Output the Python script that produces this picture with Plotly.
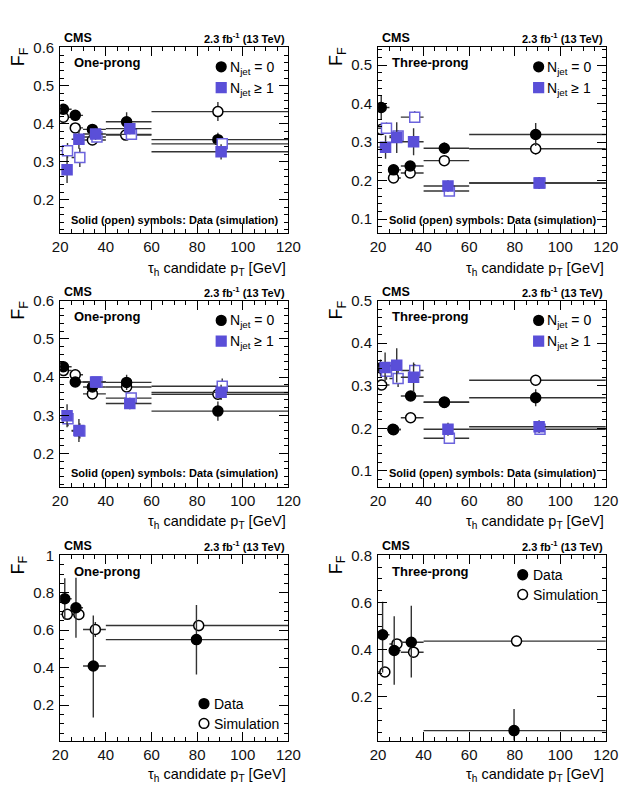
import plotly.graph_objects as go

# ---------------- DATA ----------------
bins_5 = [20, 25, 30, 40, 60, 120]
bins_4 = [20, 25, 30, 40, 120]

# Panel A: one-prong (top row)
A_nj0_data_pt = [21.4, 26.6, 34.1, 49.1, 89.1]
A_nj0_data_ff = [0.438, 0.422, 0.385, 0.405, 0.358]
A_nj0_data_err = [0.008, 0.008, 0.010, 0.025, 0.018]
A_nj0_sim_pt = [21.4, 26.6, 34.1, 48.7, 89.1]
A_nj0_sim_ff = [0.417, 0.389, 0.357, 0.370, 0.432]
A_nj0_sim_err = [0.006, 0.008, 0.008, 0.010, 0.025]
A_nj1_data_pt = [23.0, 28.2, 35.5, 50.5, 90.5]
A_nj1_data_ff = [0.279, 0.359, 0.373, 0.387, 0.326]
A_nj1_data_err = [0.035, 0.025, 0.015, 0.015, 0.020]
A_nj1_sim_pt = [23.2, 28.6, 36.1, 51.2, 91.0]
A_nj1_sim_ff = [0.329, 0.311, 0.365, 0.372, 0.347]
A_nj1_sim_err = [0.020, 0.025, 0.012, 0.010, 0.012]

# Panel B: three-prong (top row)
B_nj0_data_pt = [21.4, 26.8, 34.1, 49.1, 89.2]
B_nj0_data_ff = [0.390, 0.228, 0.238, 0.284, 0.320]
B_nj0_data_err = [0.030, 0.012, 0.010, 0.015, 0.030]
B_nj0_sim_pt = [21.4, 26.8, 34.1, 49.1, 89.2]
B_nj0_sim_ff = [0.333, 0.207, 0.220, 0.252, 0.283]
B_nj0_sim_err = [0.010, 0.008, 0.008, 0.008, 0.015]
B_nj1_data_pt = [23.3, 28.2, 35.6, 50.7, 90.7]
B_nj1_data_ff = [0.287, 0.312, 0.301, 0.186, 0.194]
B_nj1_data_err = [0.030, 0.040, 0.035, 0.015, 0.015]
B_nj1_sim_pt = [23.7, 28.8, 36.1, 51.3, 91.1]
B_nj1_sim_ff = [0.336, 0.316, 0.365, 0.173, 0.194]
B_nj1_sim_err = [0.015, 0.015, 0.015, 0.008, 0.010]

# Panel C: one-prong (middle row)
C_nj0_data_pt = [21.4, 26.6, 34.1, 49.1, 89.1]
C_nj0_data_ff = [0.427, 0.387, 0.374, 0.386, 0.311]
C_nj0_data_err = [0.008, 0.008, 0.010, 0.020, 0.025]
C_nj0_sim_pt = [21.4, 26.6, 34.1, 49.1, 89.1]
C_nj0_sim_ff = [0.417, 0.406, 0.356, 0.374, 0.355]
C_nj0_sim_err = [0.008, 0.010, 0.008, 0.010, 0.015]
C_nj1_data_pt = [23.0, 28.2, 35.5, 50.5, 90.5]
C_nj1_data_ff = [0.299, 0.260, 0.387, 0.331, 0.360]
C_nj1_data_err = [0.030, 0.030, 0.012, 0.015, 0.020]
C_nj1_sim_pt = [23.4, 28.6, 36.1, 51.1, 91.0]
C_nj1_sim_ff = [0.291, 0.259, 0.387, 0.345, 0.376]
C_nj1_sim_err = [0.020, 0.020, 0.010, 0.010, 0.020]

# Panel D: three-prong (middle row)
D_nj0_data_pt = [21.1, 26.5, 34.3, 49.1, 89.2]
D_nj0_data_ff = [0.342, 0.198, 0.276, 0.262, 0.272]
D_nj0_data_err = [0.020, 0.008, 0.010, 0.012, 0.020]
D_nj0_sim_pt = [21.6, 26.8, 34.3, 49.1, 89.2]
D_nj0_sim_ff = [0.302, 0.197, 0.225, 0.261, 0.313]
D_nj0_sim_err = [0.010, 0.005, 0.008, 0.008, 0.012]
D_nj1_data_pt = [23.1, 28.2, 35.6, 50.7, 90.7]
D_nj1_data_ff = [0.343, 0.348, 0.320, 0.198, 0.204]
D_nj1_data_err = [0.035, 0.040, 0.035, 0.015, 0.015]
D_nj1_sim_pt = [23.7, 28.8, 36.1, 51.3, 91.1]
D_nj1_sim_ff = [0.334, 0.317, 0.336, 0.177, 0.198]
D_nj1_sim_err = [0.020, 0.020, 0.015, 0.008, 0.010]

# Panel E: one-prong (bottom row), data vs simulation
E_data_pt = [22.0, 26.9, 34.5, 79.7]
E_data_ff = [0.768, 0.720, 0.409, 0.550]
E_data_err_up = [0.110, 0.160, 0.270, 0.185]
E_data_err_dn = [0.110, 0.160, 0.275, 0.186]
E_sim_pt = [23.1, 28.2, 35.4, 80.7]
E_sim_ff = [0.685, 0.684, 0.604, 0.625]
E_sim_err = [0.020, 0.020, 0.040, 0.030]

# Panel F: three-prong (bottom row), data vs simulation
F_data_pt = [22.0, 27.1, 34.6, 79.7]
F_data_ff = [0.463, 0.396, 0.431, 0.056]
F_data_err_up = [0.140, 0.145, 0.155, 0.092]
F_data_err_dn = [0.160, 0.145, 0.150, 0.090]
F_sim_pt = [23.0, 28.3, 35.6, 80.8]
F_sim_ff = [0.305, 0.424, 0.389, 0.436]
F_sim_err = [0.010, 0.015, 0.020, 0.020]

# ---------------- STYLE ----------------
W, H = 635, 785
FONT = "Liberation Sans, Arial, sans-serif"
BLUE = "#5a4fd8"
BLUE_OPEN = "#6b63dc"
EBAR = "#333333"


def px(x):
    return x / W


def py(y):
    return 1 - y / H


fig = go.Figure()


def add_series(ax, pt, ff, err_up, err_dn, edges, symbol, fill, line_color):
    lo = [p - edges[i] for i, p in enumerate(pt)]
    hi = [edges[i + 1] - p for i, p in enumerate(pt)]
    fig.add_trace(go.Scatter(
        x=pt, y=ff, mode="markers",
        xaxis="x" + ax, yaxis="y" + ax,
        marker=dict(symbol=symbol, size=10, color=fill,
                    line=dict(color=line_color, width=1.5)),
        error_x=dict(type="data", symmetric=False, array=hi, arrayminus=lo,
                     color=EBAR, thickness=1.4, width=0),
        error_y=dict(type="data", symmetric=False, array=err_up, arrayminus=err_dn,
                     color=EBAR, thickness=1.4, width=0),
        showlegend=False, hoverinfo="x+y",
    ))


def add_njet_panel(ax, d0x, d0y, d0e, s0x, s0y, s0e, d1x, d1y, d1e, s1x, s1y, s1e):
    add_series(ax, s0x, s0y, s0e, s0e, bins_5, "circle", "white", "black")
    add_series(ax, d0x, d0y, d0e, d0e, bins_5, "circle", "black", "black")
    add_series(ax, s1x, s1y, s1e, s1e, bins_5, "square", "white", BLUE_OPEN)
    add_series(ax, d1x, d1y, d1e, d1e, bins_5, "square", BLUE, BLUE)


add_njet_panel("", A_nj0_data_pt, A_nj0_data_ff, A_nj0_data_err, A_nj0_sim_pt, A_nj0_sim_ff, A_nj0_sim_err,
               A_nj1_data_pt, A_nj1_data_ff, A_nj1_data_err, A_nj1_sim_pt, A_nj1_sim_ff, A_nj1_sim_err)
add_njet_panel("2", B_nj0_data_pt, B_nj0_data_ff, B_nj0_data_err, B_nj0_sim_pt, B_nj0_sim_ff, B_nj0_sim_err,
               B_nj1_data_pt, B_nj1_data_ff, B_nj1_data_err, B_nj1_sim_pt, B_nj1_sim_ff, B_nj1_sim_err)
add_njet_panel("3", C_nj0_data_pt, C_nj0_data_ff, C_nj0_data_err, C_nj0_sim_pt, C_nj0_sim_ff, C_nj0_sim_err,
               C_nj1_data_pt, C_nj1_data_ff, C_nj1_data_err, C_nj1_sim_pt, C_nj1_sim_ff, C_nj1_sim_err)
add_njet_panel("4", D_nj0_data_pt, D_nj0_data_ff, D_nj0_data_err, D_nj0_sim_pt, D_nj0_sim_ff, D_nj0_sim_err,
               D_nj1_data_pt, D_nj1_data_ff, D_nj1_data_err, D_nj1_sim_pt, D_nj1_sim_ff, D_nj1_sim_err)

add_series("5", E_sim_pt, E_sim_ff, E_sim_err, E_sim_err, bins_4, "circle", "white", "black")
add_series("5", E_data_pt, E_data_ff, E_data_err_up, E_data_err_dn, bins_4, "circle", "black", "black")
add_series("6", F_sim_pt, F_sim_ff, F_sim_err, F_sim_err, bins_4, "circle", "white", "black")
add_series("6", F_data_pt, F_data_ff, F_data_err_up, F_data_err_dn, bins_4, "circle", "black", "black")

# ---------------- AXES ----------------
col_dom = [[54 / W, 290 / W], [382.7 / W, 618.3 / W]]
row_dom = [[py(227), py(38.5)], [py(483.3), py(295)], [py(740), py(552.7)]]
y_ranges = [[0.111, 0.602], [0.063, 0.547], [0.113, 0.600], [0.063, 0.500], [0.011, 1.0], [0.014, 0.80]]
y_dticks = [0.1, 0.1, 0.1, 0.1, 0.2, 0.2]
y_minor = [0.02, 0.02, 0.02, 0.02, 0.05, 0.05]

layout = dict(
    width=W, height=H, autosize=False,
    margin=dict(l=0, r=0, t=0, b=0),
    paper_bgcolor="white", plot_bgcolor="white",
    font=dict(family=FONT, color="black"),
    showlegend=False,
)

for i in range(6):
    r, c = divmod(i, 2)
    suf = "" if i == 0 else str(i + 1)
    xa = "xaxis" + suf
    ya = "yaxis" + suf
    layout[xa] = dict(
        domain=col_dom[c], anchor="y" + suf, range=[20, 120],
        tick0=20, dtick=20, ticks="inside", ticklen=9, tickwidth=1, tickcolor="black",
        showline=True, linecolor="black", linewidth=1, mirror="allticks",
        showgrid=False, zeroline=False,
        minor=dict(dtick=5, tick0=20, ticks="inside", ticklen=4, tickcolor="black", showgrid=False),
        tickfont=dict(family=FONT, size=15, color="#111"),
    )
    layout[ya] = dict(
        domain=row_dom[r], anchor="x" + suf, range=y_ranges[i],
        tick0=0, dtick=y_dticks[i], ticks="inside", ticklen=9, tickwidth=1, tickcolor="black",
        showline=True, linecolor="black", linewidth=1, mirror="allticks",
        showgrid=False, zeroline=False,
        minor=dict(dtick=y_minor[i], tick0=0, ticks="inside", ticklen=4, tickcolor="black", showgrid=False),
        tickfont=dict(family=FONT, size=15, color="#111"),
        ticklabelstandoff=2,
    )

fig.update_layout(**layout)

# ---------------- TEXT ----------------
annotations = []
shapes = []

plot_left = [54, 382.7]
plot_right = [290, 618.3]
plot_top = [38.5, 295, 552.7]
plot_bottom = [227, 483.3, 740]
xtitle_y = [263, 519, 775]
labels = ["One-prong", "Three-prong", "One-prong", "Three-prong", "One-prong", "Three-prong"]


def ann(x, y, text, size, bold=False, xanchor="left", yanchor="middle", angle=0):
    annotations.append(dict(
        x=px(x), y=py(y), xref="paper", yref="paper", text=("<b>%s</b>" % text) if bold else text,
        showarrow=False, xanchor=xanchor, yanchor=yanchor, textangle=angle,
        font=dict(family=FONT, size=size, color="black"),
    ))


def marker_shape(cx, cy, kind, fill, line):
    r = 5
    shapes.append(dict(
        type="circle" if kind == "circle" else "rect", xref="paper", yref="paper",
        x0=px(cx - r), x1=px(cx + r), y0=py(cy + r), y1=py(cy - r),
        fillcolor=fill, line=dict(color=line, width=1.5),
    ))


for i in range(6):
    r, c = divmod(i, 2)
    L, R, T, B = plot_left[c], plot_right[c], plot_top[r], plot_bottom[r]
    ann(L + 2, T - 9, "CMS", 12.5, bold=True)
    ann(R - 1, T - 9, "2.3 fb<sup>-1</sup> (13 TeV)", 11, bold=True, xanchor="right")
    ann(L + 12, T + 16, labels[i], 13, bold=True)
    ann(L - 42, T - 2, "F<sub>F</sub>", 18, xanchor="center", yanchor="top", angle=-90)
    ann(R, xtitle_y[r], "τ<sub>h</sub> candidate p<sub>T</sub> [GeV]", 14.5, xanchor="right")
    if r < 2:
        ann((L + R) / 2 + 1, B - 14, "Solid (open) symbols: Data (simulation)", 11, bold=True, xanchor="center")
        mx = R - 69.5
        marker_shape(mx, T + 20, "circle", "black", "black")
        ann(mx + 7, T + 21, "N<sub>jet</sub> = 0", 14)
        marker_shape(mx, T + 41, "rect", BLUE, BLUE)
        ann(mx + 7, T + 42, "N<sub>jet</sub> ≥ 1", 14)

# bottom-row legends
marker_shape(202.7, 702.7, "circle", "black", "black")
ann(211, 703, "Data", 14)
marker_shape(202.7, 722.7, "circle", "white", "black")
ann(211, 723, "Simulation", 14)
marker_shape(532.3, 572.3, "circle", "black", "black")
ann(540.5, 572.5, "Data", 14)
marker_shape(532.3, 592.3, "circle", "white", "black")
ann(540.5, 592.5, "Simulation", 14)

fig.update_layout(annotations=annotations, shapes=shapes)
fig.write_html("out.html", include_plotlyjs=True,
               post_script="document.body.style.margin='0px';document.body.style.padding='0px';")
